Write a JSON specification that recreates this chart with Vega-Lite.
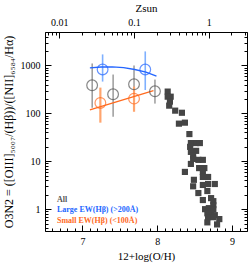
{
  "$schema": "https://vega.github.io/schema/vega-lite/v6.json",
  "autosize": "none",
  "width": 202,
  "height": 199,
  "padding": {"left": 45, "top": 32, "right": 2, "bottom": 37},
  "background": "white",
  "config": {
    "view": {"stroke": "black", "strokeWidth": 1},
    "axis": {"domain": false, "grid": false, "labelFont": "Liberation Serif", "labelFontSize": 10, "titleFont": "Liberation Serif", "titleFontSize": 11, "titleFontWeight": "normal", "tickColor": "black", "labelColor": "black", "titleColor": "black", "tickWidth": 1}
  },
  "datasets": {
    "squares": [
      {"oh": 8.14, "o3n2": 285}, {"oh": 8.14, "o3n2": 223}, {"oh": 8.18, "o3n2": 223}, {"oh": 8.17, "o3n2": 176}, {"oh": 8.16, "o3n2": 145},
      {"oh": 8.24, "o3n2": 114}, {"oh": 8.33, "o3n2": 103}, {"oh": 8.29, "o3n2": 61}, {"oh": 8.37, "o3n2": 64}, {"oh": 8.43, "o3n2": 37},
      {"oh": 8.45, "o3n2": 24}, {"oh": 8.52, "o3n2": 24}, {"oh": 8.57, "o3n2": 24}, {"oh": 8.44, "o3n2": 20}, {"oh": 8.45, "o3n2": 15.7},
      {"oh": 8.52, "o3n2": 16.5}, {"oh": 8.48, "o3n2": 13.2}, {"oh": 8.48, "o3n2": 11.2}, {"oh": 8.55, "o3n2": 10.7}, {"oh": 8.61, "o3n2": 10.7},
      {"oh": 8.45, "o3n2": 8.8}, {"oh": 8.56, "o3n2": 7.2}, {"oh": 8.63, "o3n2": 7.2}, {"oh": 8.37, "o3n2": 6.0}, {"oh": 8.61, "o3n2": 6.0},
      {"oh": 8.49, "o3n2": 4.1}, {"oh": 8.61, "o3n2": 4.7}, {"oh": 8.68, "o3n2": 4.7}, {"oh": 8.48, "o3n2": 3.0}, {"oh": 8.61, "o3n2": 3.2},
      {"oh": 8.68, "o3n2": 3.35}, {"oh": 8.77, "o3n2": 3.35}, {"oh": 8.55, "o3n2": 2.17}, {"oh": 8.67, "o3n2": 2.39}, {"oh": 8.72, "o3n2": 1.7},
      {"oh": 8.61, "o3n2": 1.55}, {"oh": 8.75, "o3n2": 1.47}, {"oh": 8.75, "o3n2": 1.21}, {"oh": 8.64, "o3n2": 1.0}, {"oh": 8.69, "o3n2": 1.05},
      {"oh": 8.75, "o3n2": 1.0}, {"oh": 8.67, "o3n2": 0.82}, {"oh": 8.72, "o3n2": 0.79}, {"oh": 8.77, "o3n2": 0.75}, {"oh": 8.68, "o3n2": 0.68},
      {"oh": 8.75, "o3n2": 0.68}, {"oh": 8.83, "o3n2": 0.62}, {"oh": 8.67, "o3n2": 0.53}, {"oh": 8.8, "o3n2": 0.48}
    ],
    "circles": [
      {"g": "all", "oh": 7.13, "o3n2": 386, "lo": 131, "hi": 1101},
      {"g": "all", "oh": 7.41, "o3n2": 250, "lo": 85, "hi": 647},
      {"g": "all", "oh": 7.69, "o3n2": 405, "lo": 152, "hi": 1000},
      {"g": "all", "oh": 7.97, "o3n2": 289, "lo": 160, "hi": 508},
      {"g": "large", "oh": 7.27, "o3n2": 824, "lo": 461, "hi": 1703},
      {"g": "large", "oh": 7.84, "o3n2": 824, "lo": 308, "hi": 1966},
      {"g": "small", "oh": 7.24, "o3n2": 165, "lo": 64, "hi": 345},
      {"g": "small", "oh": 7.69, "o3n2": 203, "lo": 108, "hi": 362}
    ],
    "fits": [
      {"g": "large", "oh": 7.1, "o3n2": 894}, {"g": "large", "oh": 7.25, "o3n2": 929}, {"g": "large", "oh": 7.4, "o3n2": 939},
      {"g": "large", "oh": 7.55, "o3n2": 900}, {"g": "large", "oh": 7.7, "o3n2": 824}, {"g": "large", "oh": 7.85, "o3n2": 730},
      {"g": "large", "oh": 7.99, "o3n2": 600},
      {"g": "small", "oh": 7.1, "o3n2": 119}, {"g": "small", "oh": 7.95, "o3n2": 299}
    ],
    "labels": [
      {"g": "all", "label": "All", "oh": 6.66, "o3n2": 1.55},
      {"g": "large", "label": "Large EW(Hβ) (>200Å)", "oh": 6.66, "o3n2": 0.95},
      {"g": "small", "label": "Small EW(Hβ) (<100Å)", "oh": 6.66, "o3n2": 0.56}
    ],
    "topaxis": [{"zsun": 0.01}, {"zsun": 1}],
    "rightaxis": [{"r": 1}, {"r": 10}]
  },
  "layer": [
    {
      "encoding": {
        "x": {"field": "oh", "type": "quantitative", "scale": {"domain": [6.5, 9.2], "nice": false, "zero": false},
          "axis": {"orient": "bottom", "title": "12+log(O/H)", "values": [6.5,6.6,6.7,6.8,6.9,7,7.1,7.2,7.3,7.4,7.5,7.6,7.7,7.8,7.9,8,8.1,8.2,8.3,8.4,8.5,8.6,8.7,8.8,8.9,9,9.1,9.2],
            "labelExpr": "abs(datum.value-round(datum.value))<0.01 ? format(datum.value,'d') : ''",
            "tickSize": {"condition": {"test": "abs(datum.value-round(datum.value))<0.01", "value": -6}, "value": -3},
            "labelPadding": 11, "titlePadding": 4, "labelFlush": false}},
        "y": {"field": "o3n2", "type": "quantitative", "scale": {"type": "log", "domain": [0.35, 5000], "nice": false},
          "axis": {"orient": "left", "title": "O3N2 = ([OIII]₅₀₀₇/(Hβ))/([NII]₆₅₈₄/Hα)",
            "values": [0.4,0.5,0.6,0.7,0.8,0.9,1,2,3,4,5,6,7,8,9,10,20,30,40,50,60,70,80,90,100,200,300,400,500,600,700,800,900,1000,2000,3000,4000,5000],
            "labelExpr": "(datum.value==1||datum.value==10||datum.value==100||datum.value==1000) ? format(datum.value,'d') : ''",
            "tickSize": {"condition": {"test": "datum.value==1||datum.value==10||datum.value==100||datum.value==1000", "value": -6}, "value": -3},
            "labelPadding": 11, "titlePadding": 5, "titleFontSize": 12, "labelFlush": false}}
      },
      "layer": [
        {"data": {"name": "squares"}, "mark": {"type": "square", "size": 38, "color": "#454545", "opacity": 1}},
        {"data": {"name": "circles"}, "mark": {"type": "rule"},
          "encoding": {"y": {"field": "lo", "type": "quantitative"}, "y2": {"field": "hi"},
            "stroke": {"field": "g", "type": "nominal", "scale": {"domain": ["all", "large", "small"], "range": ["#6a6a6a", "#7fb0ff", "#ffa56e"]}, "legend": null},
            "strokeWidth": {"field": "g", "type": "nominal", "scale": {"domain": ["all", "large", "small"], "range": [1, 2.2, 2.2]}, "legend": null}}},
        {"data": {"name": "fits"}, "mark": {"type": "line", "strokeWidth": 1.3},
          "encoding": {"color": {"field": "g", "type": "nominal", "scale": {"domain": ["all", "large", "small"], "range": ["#555555", "#2466ff", "#ff6a1e"]}, "legend": null}}},
        {"data": {"name": "circles"}, "mark": {"type": "point", "filled": false, "size": 115, "strokeWidth": 1.2},
          "encoding": {"color": {"field": "g", "type": "nominal", "legend": null}}},
        {"data": {"name": "labels"}, "mark": {"type": "text", "align": "left", "baseline": "middle", "font": "Liberation Serif", "fontSize": 8, "fontWeight": "bold"},
          "encoding": {"text": {"field": "label"}, "color": {"field": "g", "type": "nominal", "legend": null}}}
      ]
    },
    {
      "data": {"name": "topaxis"},
      "mark": {"type": "rule", "opacity": 0},
      "encoding": {
        "x": {"field": "zsun", "type": "quantitative", "scale": {"type": "log", "domain": [0.006457, 3.236], "nice": false},
          "axis": {"orient": "top", "title": "Zsun",
            "values": [0.007,0.008,0.009,0.01,0.02,0.03,0.04,0.05,0.06,0.07,0.08,0.09,0.1,0.2,0.3,0.4,0.5,0.6,0.7,0.8,0.9,1,2,3],
            "labelExpr": "datum.value==0.01 ? '0.01' : datum.value==0.1 ? '0.1' : datum.value==1 ? '1' : ''",
            "tickSize": {"condition": {"test": "datum.value==0.01||datum.value==0.1||datum.value==1", "value": -6}, "value": -3},
            "labelPadding": 11, "titlePadding": 4, "labelFlush": false}}
      }
    },
    {
      "data": {"name": "rightaxis"},
      "mark": {"type": "rule", "opacity": 0},
      "encoding": {
        "y": {"field": "r", "type": "quantitative", "scale": {"type": "log", "domain": [0.35, 5000], "nice": false},
          "axis": {"orient": "right", "title": null, "labels": false,
            "values": [0.4,0.5,0.6,0.7,0.8,0.9,1,2,3,4,5,6,7,8,9,10,20,30,40,50,60,70,80,90,100,200,300,400,500,600,700,800,900,1000,2000,3000,4000,5000],
            "tickSize": {"condition": {"test": "datum.value==1||datum.value==10||datum.value==100||datum.value==1000", "value": -6}, "value": -3}}}
      }
    }
  ],
  "resolve": {"scale": {"x": "independent", "y": "independent"}}
}
